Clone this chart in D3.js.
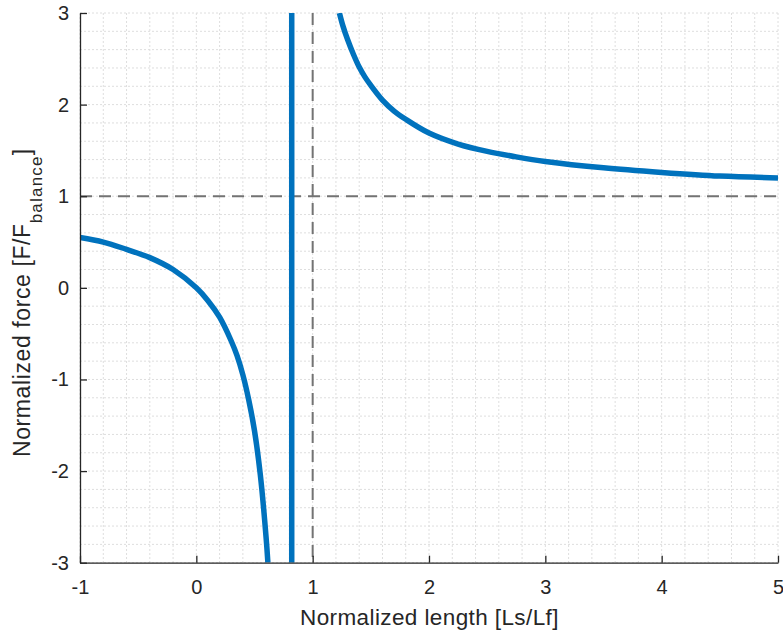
<!DOCTYPE html>
<html>
<head>
<meta charset="utf-8">
<script src="https://cdn.jsdelivr.net/npm/d3@7"></script>
<style>
    body { margin: 0; background: #fff; }
    text { font-family: "Liberation Sans", Arial, Helvetica, sans-serif; fill: #262626; }
</style>
</head>
<body>
<svg id="chart" width="783" height="635"></svg>
<script>
'use strict';

// left branch of the force curve
var leftX = [ -1, -0.8, -0.6, -0.4, -0.2, 0, 0.1, 0.2, 0.3, 0.35, 0.4, 0.45, 0.5, 0.55, 0.6, 0.615 ];
var leftY = [ 0.55, 0.50, 0.42, 0.33, 0.20, 0, -0.14, -0.32, -0.58, -0.74, -0.95, -1.22, -1.56, -2.04, -2.73, -3.0 ];

// right branch
var rightX = [ 1.23, 1.26, 1.3, 1.35, 1.4, 1.45, 1.5, 1.6, 1.7, 1.8, 2.0, 2.25, 2.5, 2.75, 3.0, 3.5, 4.0, 4.5, 5.0 ];
var rightY = [ 3.0, 2.86, 2.71, 2.55, 2.41, 2.30, 2.21, 2.05, 1.93, 1.84, 1.69, 1.57, 1.49, 1.43, 1.38, 1.31, 1.26, 1.22, 1.20 ];

// vertical blue line and the dashed reference lines
var poleX = 0.82;
var refX = 1;
var refY = 1;

var xTicks = [ -1, 0, 1, 2, 3, 4, 5 ];
var yTicks = [ -3, -2, -1, 0, 1, 2, 3 ];
var xMinor = d3.range( -1, 5.001, 0.2 );
var yMinor = d3.range( -3, 3.001, 0.2 );

var box = { left: 80, top: 13, right: 778, bottom: 562.7 };

var svg = d3.select( '#chart' ),
    x = d3.scaleLinear().domain( [ -1, 5 ] ).range( [ box.left, box.right ] ),
    y = d3.scaleLinear().domain( [ -3, 3 ] ).range( [ box.bottom, box.top ] ),
    blue = '#0072BD';

function pairs( xs, ys ){
    return xs.map( function( v, i ){ return [ v, ys[i] ]; } );
}

svg.append( 'clipPath' )
    .attr( 'id', 'plotClip' )
    .append( 'rect' )
    .attr( 'x', box.left )
    .attr( 'y', box.top )
    .attr( 'width', box.right - box.left )
    .attr( 'height', box.bottom - box.top );

// grid, every 0.2 both ways
var $grid = svg.append( 'g' )
    .attr( 'stroke', '#dedede' )
    .attr( 'stroke-width', 1 )
    .attr( 'stroke-dasharray', '2,2' );

$grid.selectAll( 'line.gx' )
    .data( xMinor )
    .enter().append( 'line' )
    .attr( 'class', 'gx' )
    .attr( 'x1', function( d ){ return x(d); } )
    .attr( 'x2', function( d ){ return x(d); } )
    .attr( 'y1', box.top )
    .attr( 'y2', box.bottom );

$grid.selectAll( 'line.gy' )
    .data( yMinor )
    .enter().append( 'line' )
    .attr( 'class', 'gy' )
    .attr( 'x1', box.left )
    .attr( 'x2', box.right )
    .attr( 'y1', function( d ){ return y(d); } )
    .attr( 'y2', function( d ){ return y(d); } );

// dashed reference lines
var $ref = svg.append( 'g' )
    .attr( 'stroke', '#737373' )
    .attr( 'stroke-width', 2 )
    .attr( 'stroke-dasharray', '12,7' );

$ref.append( 'line' )
    .attr( 'x1', box.left )
    .attr( 'x2', box.right )
    .attr( 'y1', y(refY) )
    .attr( 'y2', y(refY) );

$ref.append( 'line' )
    .attr( 'x1', x(refX) )
    .attr( 'x2', x(refX) )
    .attr( 'y1', box.top )
    .attr( 'y2', box.bottom );

// the curve itself
var line = d3.line()
    .x( function( d ){ return x(d[0]); } )
    .y( function( d ){ return y(d[1]); } )
    .curve( d3.curveCatmullRom.alpha( 0.5 ) );

var $curves = svg.append( 'g' )
    .attr( 'clip-path', 'url(#plotClip)' )
    .attr( 'fill', 'none' )
    .attr( 'stroke', blue )
    .attr( 'stroke-width', 5.5 );

$curves.append( 'path' ).attr( 'd', line( pairs( leftX, leftY ) ) );
$curves.append( 'path' ).attr( 'd', line( pairs( rightX, rightY ) ) );
$curves.append( 'line' )
    .attr( 'x1', x(poleX) )
    .attr( 'x2', x(poleX) )
    .attr( 'y1', y(-3) )
    .attr( 'y2', y(3) );

// axes, ticks point inward like matlab
function plain( d ){ return String(d); }

var $xAxis = svg.append( 'g' )
    .attr( 'transform', 'translate(0,' + box.bottom + ')' )
    .call( d3.axisBottom( x ).tickValues( xTicks ).tickFormat( plain ).tickSizeInner( -7 ).tickSizeOuter( 0 ).tickPadding( 17 ) );

var $yAxis = svg.append( 'g' )
    .attr( 'transform', 'translate(' + box.left + ',0)' )
    .call( d3.axisLeft( y ).tickValues( yTicks ).tickFormat( plain ).tickSizeInner( -7 ).tickSizeOuter( 0 ).tickPadding( 11 ) );

[ $xAxis, $yAxis ].forEach( function( $a ){
    $a.select( '.domain' ).attr( 'stroke', '#262626' ).attr( 'stroke-width', 1.3 );
    $a.selectAll( '.tick line' ).attr( 'stroke', '#262626' ).attr( 'stroke-width', 1.3 );
    $a.selectAll( '.tick text' )
        .attr( 'fill', '#262626' )
        .style( 'font-size', '20px' )
        .style( 'font-family', '"Liberation Sans", Arial, sans-serif' );
});

// axis labels
svg.append( 'text' )
    .attr( 'x', 300 )
    .attr( 'y', 624.5 )
    .style( 'font-size', '22.5px' )
    .style( 'letter-spacing', '0.4px' )
    .text( 'Normalized length [Ls/Lf]' );

var $yLabel = svg.append( 'text' )
    .attr( 'transform', 'translate(29.5,457) rotate(-90)' )
    .style( 'font-size', '23px' )
    .style( 'letter-spacing', '0.6px' );

$yLabel.append( 'tspan' ).text( 'Normalized force [F/F' );
$yLabel.append( 'tspan' )
    .attr( 'dy', 12 )
    .style( 'font-size', '17px' )
    .style( 'letter-spacing', '1.2px' )
    .text( 'balance' );
$yLabel.append( 'tspan' ).attr( 'dy', -12 ).text( ']' );
</script>
</body>
</html>
